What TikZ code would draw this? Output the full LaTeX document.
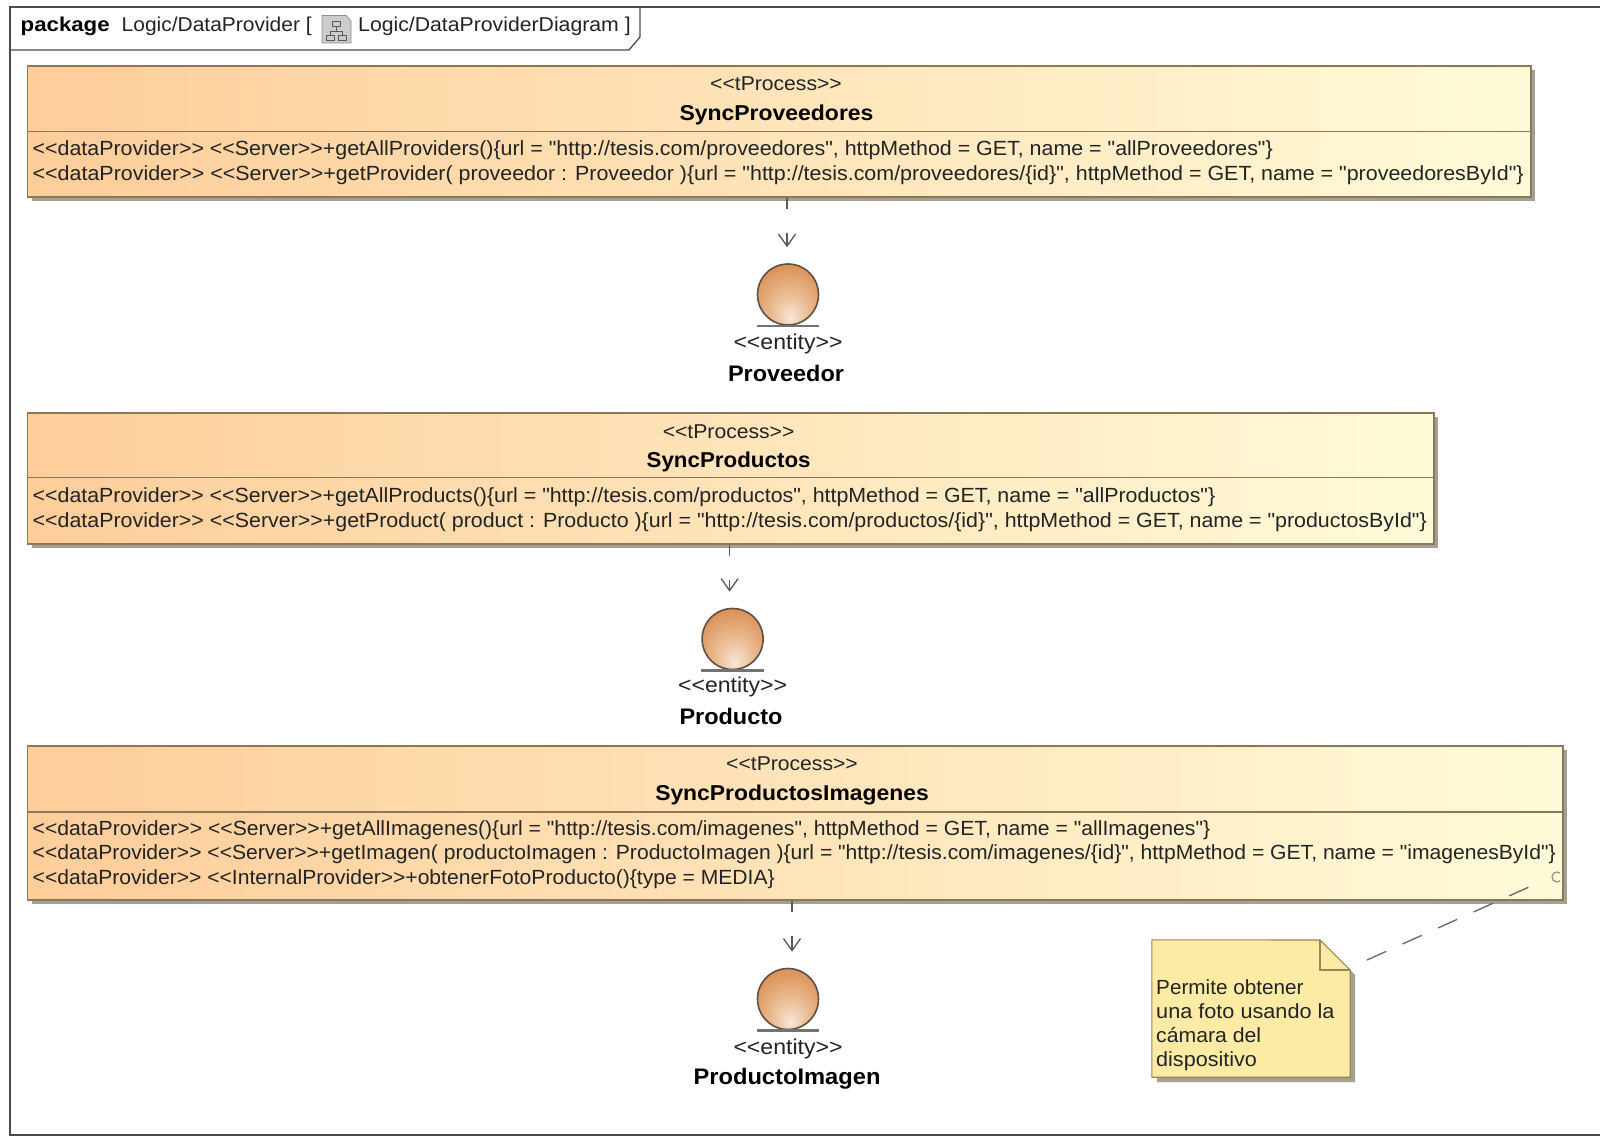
\documentclass[tikz,border=0pt]{standalone}
\usepackage{fontspec}
\usetikzlibrary{shadows,arrows.meta}
\newfontfamily\af{Liberation Sans}
\newcommand{\fitw}[2]{\resizebox{#1pt}{\height}{#2}}
\definecolor{boxl}{RGB}{254,205,154}
\definecolor{boxr}{RGB}{255,251,216}
\definecolor{boxline}{RGB}{140,120,85}
\definecolor{shad}{RGB}{165,160,150}
\definecolor{ink}{RGB}{35,35,35}
\definecolor{notefill}{RGB}{253,234,165}
\definecolor{noteline}{RGB}{150,135,85}
\definecolor{ballA}{RGB}{248,232,218}
\definecolor{ballB}{RGB}{235,190,150}
\definecolor{ballC}{RGB}{216,140,80}
\definecolor{ballD}{RGB}{210,130,70}
\definecolor{ballrim}{RGB}{95,80,65}
\pgfdeclareradialshading{entball}{\pgfpoint{2bp}{-20bp}}{color(0bp)=(ballA);color(14bp)=(ballB);color(34bp)=(ballC);color(50bp)=(ballD)}
\tikzset{
  x=1pt,y=-1pt,
  classbox/.style={draw=boxline,line width=1.2pt,left color=boxl,right color=boxr,inner sep=0,
    drop shadow={shadow xshift=4pt,shadow yshift=-4pt,fill=shad,opacity=1}},
  stereo/.style={anchor=base,inner sep=0,text=ink,font=\af\fontsize{20}{24}\selectfont},
  cname/.style={anchor=base,inner sep=0,text=black,font=\af\bfseries\fontsize{21.5}{24}\selectfont},
  optext/.style={anchor=base west,inner sep=0,text=ink,font=\af\fontsize{20.5}{24}\selectfont},
  ball/.style={circle,draw=ballrim,line width=1.6pt,shading=entball,minimum size=61pt,inner sep=0},
  ballbase/.style={draw=black!55,line width=2.4pt},
  entlab/.style={anchor=base,inner sep=0,text=ink,font=\af\fontsize{21.5}{24}\selectfont},
  entname/.style={anchor=base,inner sep=0,text=black,font=\af\bfseries\fontsize{22.5}{24}\selectfont},
  dep/.style={draw=black!65,line width=1.3pt,dash pattern=on 11pt off 24pt on 40pt,shorten >=16pt,-{Straight Barb[length=12pt,width=17pt,line width=1.3pt]}},
  frameline/.style={draw=black!70,line width=1.3pt},
  titletext/.style={anchor=base west,inner sep=0,text=ink,font=\af\fontsize{20}{24}\selectfont},
}
\begin{document}
\begin{tikzpicture}
\useasboundingbox (0,0) rectangle (1600,1139);
\fill[white] (0,0) rectangle (1600,1139);
% frame
\draw[frameline] (1601,7) -- (10,7) -- (10,1135) -- (1601,1135);
\draw[frameline] (10,50) -- (629,50) -- (640,37) -- (640,7);
\node[anchor=base west,inner sep=0,font=\af\bfseries\fontsize{20}{24}\selectfont] (pk) at (20.5,32) {\fitw{89}{package}};
\node[titletext] (pn) at (121.5,32) {\fitw{190}{Logic/DataProvider [}};
\node[titletext] (dn) at (358,32) {\fitw{272.5}{Logic/DataProviderDiagram ]}};
% diagram icon
\draw[fill=black!20,draw=black!45,line width=.8pt] (322,15.5) -- (346,15.5) -- (351,21) -- (351,43) -- (322,43) -- cycle;
\draw[black!65,line width=1pt] (332,22) rectangle (340,27) (326,36) rectangle (334,41) (338,36) rectangle (346,41)
  (336,27) -- (336,32) (330,36) -- (330,32) -- (342,32) -- (342,36);
% boxes
\node[classbox,minimum width=1503.5pt,minimum height=131pt] (box1) at (779.25,131.5) {};
\node[classbox,minimum width=1406.5pt,minimum height=131pt] (box2) at (730.75,478.5) {};
\node[classbox,minimum width=1535.5pt,minimum height=154pt] (box3) at (795.25,823) {};
\draw[boxline,line width=1.1pt] (27.5,131.6) -- (1531,131.6) (27.5,477.5) -- (1434,477.5) (27.5,812) -- (1563,812);
% box 1 text
\node[stereo] (s1) at (776,91) {\fitw{131.6}{<<tProcess>>}};
\node[cname] (n1) at (776.5,121) {\fitw{194}{SyncProveedores}};
\node[optext] (o11) at (32.5,156) {\fitw{1240}{<<dataProvider>> <<Server>>+getAllProviders()\{url = "http://tesis.com/proveedores", httpMethod = GET, name = "allProveedores"\}}};
\node[optext] (o12) at (32.5,180.5) {\fitw{1491}{<<dataProvider>> <<Server>>+getProvider( proveedor : Proveedor )\{url = "http://tesis.com/proveedores/\{id\}", httpMethod = GET, name = "proveedoresById"\}}};
% box 2 text
\node[stereo] (s2) at (728.6,438) {\fitw{131.6}{<<tProcess>>}};
\node[cname] (n2) at (728.6,467.5) {\fitw{164}{SyncProductos}};
\node[optext] (o21) at (32.5,502.5) {\fitw{1182.5}{<<dataProvider>> <<Server>>+getAllProducts()\{url = "http://tesis.com/productos", httpMethod = GET, name = "allProductos"\}}};
\node[optext] (o22) at (32.5,527) {\fitw{1394}{<<dataProvider>> <<Server>>+getProduct( product : Producto )\{url = "http://tesis.com/productos/\{id\}", httpMethod = GET, name = "productosById"\}}};
% box 3 text
\node[stereo] (s3) at (792,770.5) {\fitw{131.6}{<<tProcess>>}};
\node[cname] (n3) at (792,800.5) {\fitw{273.5}{SyncProductosImagenes}};
\node[optext] (o31) at (32.5,835) {\fitw{1177.5}{<<dataProvider>> <<Server>>+getAllImagenes()\{url = "http://tesis.com/imagenes", httpMethod = GET, name = "allImagenes"\}}};
\node[optext] (o32) at (32.5,859.5) {\fitw{1523}{<<dataProvider>> <<Server>>+getImagen( productoImagen : ProductoImagen )\{url = "http://tesis.com/imagenes/\{id\}", httpMethod = GET, name = "imagenesById"\}}};
\node[optext] (o33) at (32.5,884) {\fitw{742}{<<dataProvider>> <<InternalProvider>>+obtenerFotoProducto()\{type = MEDIA\}}};
% entities
\node[ball] (e1) at (788,294.5) {};
\draw[ballbase] (e1.west |- e1.south) -- (e1.east |- e1.south);
\node[entlab] (l1) at (788,349) {\fitw{109}{<<entity>>}};
\node[entname] (m1) at (786,381.5) {\fitw{116}{Proveedor}};
\node[ball] (e2) at (732.6,639) {};
\draw[ballbase] (e2.west |- e2.south) -- (e2.east |- e2.south);
\node[entlab] (l2) at (732.6,692.5) {\fitw{109}{<<entity>>}};
\node[entname] (m2) at (731,724) {\fitw{103}{Producto}};
\node[ball] (e3) at (788,999) {};
\draw[ballbase] (e3.west |- e3.south) -- (e3.east |- e3.south);
\node[entlab] (l3) at (788,1054.5) {\fitw{109}{<<entity>>}};
\node[entname] (m3) at (787,1084) {\fitw{187}{ProductoImagen}};
% connectors
\draw[dep] ([xshift=-1pt]e1.north |- box1.south) -- ([xshift=-1pt]e1.north);
\draw[dep] ([xshift=-3pt]e2.north |- box2.south) -- ([xshift=-3pt]e2.north);
\draw[dep] ([xshift=4pt]e3.north |- box3.south) -- ([xshift=4pt]e3.north);
% note
\node[inner sep=0,minimum width=198pt,minimum height=137pt] (note) at (1251,1008.5) {};
\fill[shad] (1355,975) -- (1355,1082) -- (1157,1082) -- (1157,1077) -- (1350,1077) -- (1350,970) -- cycle;
\draw[noteline,fill=notefill,line width=1.1pt] (note.north west) -- (1320,940) -- (note.east |- 0,970) -- (note.south east) -- (note.south west) -- cycle;
\draw[noteline,line width=1.1pt] (1320,940) -- (1320,970) -- (note.east |- 0,970);
\node[anchor=north west,inner sep=0,text=ink,align=left,font=\af\fontsize{20.5}{24}\selectfont] (nt) at (1156,979) {\fitw{147.3}{Permite obtener}\\\fitw{178.3}{una foto usando la}\\\fitw{105}{cámara del}\\\fitw{100.7}{dispositivo}};
% anchor link
\coordinate (anc) at (1529,887);
\draw[black!60,line width=1.3pt,dash pattern=on 21pt off 18pt] (1367,960) -- (anc);
\draw[black!45,line width=1.2pt] (1560.2,880.8) arc (50:310:5);
\end{tikzpicture}
\end{document}
